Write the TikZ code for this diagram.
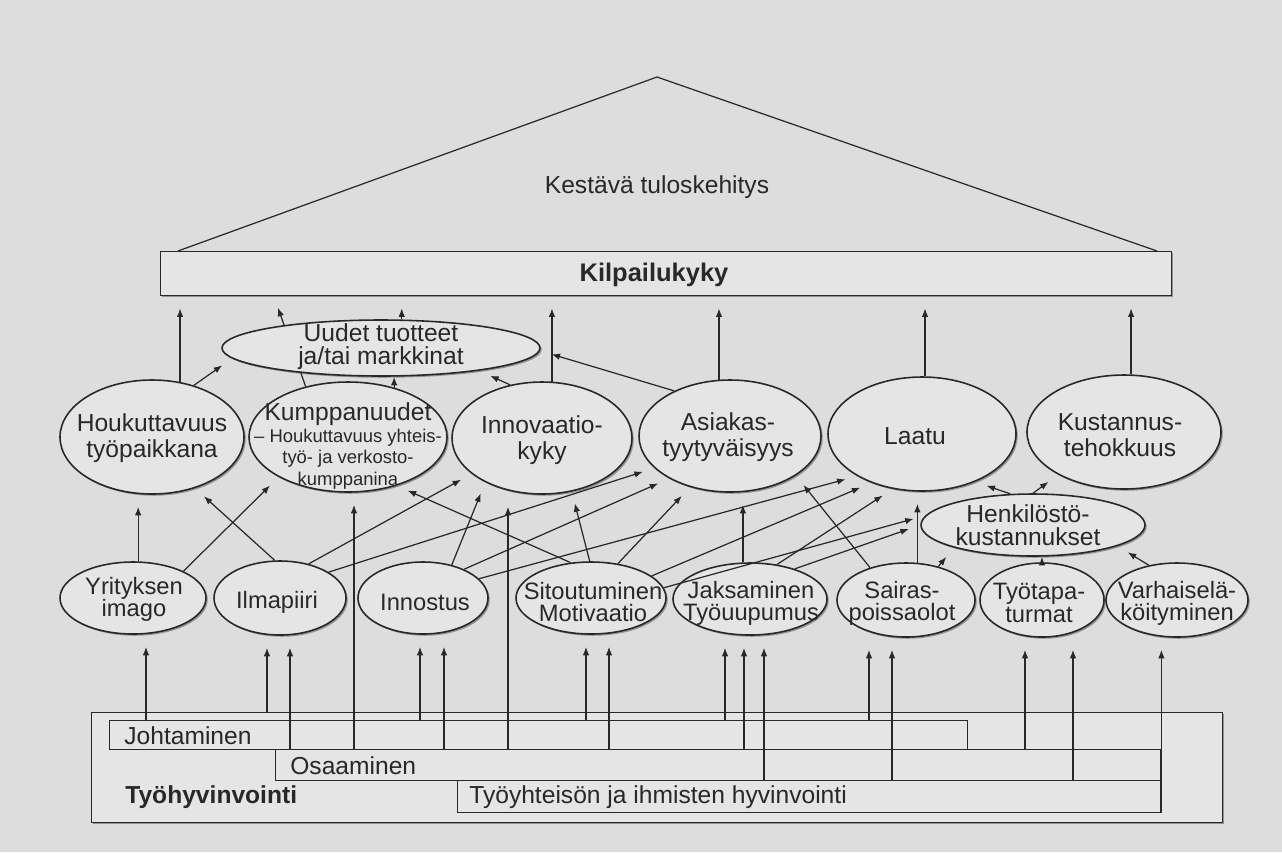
\documentclass[tikz,border=0pt]{standalone}
\usepackage{fontspec}
\setmainfont{Liberation Sans}
\usetikzlibrary{shapes.geometric,arrows.meta,shadows}

\definecolor{paper}{RGB}{221,221,221}
\definecolor{ink}{RGB}{40,40,40}
\definecolor{oval}{RGB}{229,229,229}

\tikzset{
  wire/.style={draw=ink, line width=.7pt},
  arr/.style={wire, -{Latex[length=1.7mm,width=1.3mm]}, shorten >=2.4mm},
  tip/.style={wire, -{Latex[length=1.7mm,width=1.3mm]}},
  shade/.style={drop shadow={shadow xshift=.35mm, shadow yshift=-.35mm, fill=black!70, opacity=.5}},
  ov/.style 2 args={ellipse, draw=ink, line width=.9pt, fill=oval, inner sep=0pt,
    minimum width=#1*.2mm, minimum height=#2*.2mm, shade},
  frame/.style 2 args={rectangle, draw=ink, line width=.8pt, inner sep=0pt,
    anchor=north west, minimum width=#1*.2mm, minimum height=#2*.2mm},
  txt/.style={align=center, text=ink, inner sep=0pt, font=\fontsize{14}{15}\selectfont},
  txt3/.style={txt, font=\fontsize{13.5}{12.6}\selectfont},
}

\begin{document}
\begin{tikzpicture}[x=.2mm, y=-.2mm]
\fill[paper] (0,0) rectangle (1282,852);

% roof
\node[frame={1011}{44}, fill=oval, shade] (bar) at (160,251) {};
\node[txt, font=\bfseries\fontsize{14.5}{16}\selectfont] (bar-t) at (654,275) {Kilpailukyky};
\coordinate (peak) at (657,77);
\draw[wire] (bar.north west -| 178,0) -- (peak) -- (bar.north east -| 1157,0);
\node[txt] (roof-t) at (657,187) {Kestävä tuloskehitys};

% upper ovals
\node[ov={184}{114}] (hou) at (152,437) {};
\node[ov={198}{110}] (kum) at (348,437) {};
\node[ov={180}{112}] (inn) at (542,438) {};
\node[ov={182}{112}] (asi) at (730,436) {};
\node[ov={188}{114}] (laa) at (922,434) {};
\node[ov={194}{114}] (kus) at (1124,432) {};
\draw[arr] (kum.130) -- (bar.south -| 274,0);
\node[ov={318}{56}] (uud) at (381,348) {};
\node[ov={224}{62}] (hen) at (1033,525) {};

% lower ovals
\node[ov={146}{72}] (ima) at (133,598) {};
\node[ov={132}{74}] (ilm) at (280,598) {};
\node[ov={130}{72}] (ins) at (423,598) {};
\node[ov={150}{72}] (sit) at (591,598) {};
\node[ov={154}{72}] (jak) at (750,599) {};
\node[ov={138}{74}] (sai) at (906,600) {};
\node[ov={124}{74}] (tyo) at (1042,600) {};
\node[ov={142}{74}] (var) at (1177,600) {};

% labels
\node[txt] (hou-t) at (152,438) {Houkuttavuus\\työpaikkana};
\node[txt, font=\fontsize{10.5}{12.5}\selectfont] (kum-t) at (348,446)
  {{\fontsize{14}{15}\selectfont Kumppanuudet}\\– Houkuttavuus yhteis-\\työ- ja verkosto-\\kumppanina};
\node[txt] (inn-t) at (542,440) {Innovaatio-\\kyky};
\node[txt] (asi-t) at (728,437) {Asiakas-\\tyytyväisyys};
\node[txt] (laa-t) at (915,436) {Laatu};
\node[txt] (kus-t) at (1120,435) {Kustannus-\\tehokkuus};
\node[txt, font=\fontsize{14}{13}\selectfont] (uud-t) at (381,347) {Uudet tuotteet\\ja/tai markkinat};
\node[txt, font=\fontsize{14}{13}\selectfont] (hen-t) at (1028,525) {Henkilöstö-\\kustannukset};
\node[txt3] (ima-t) at (134,599) {Yrityksen\\imago};
\node[txt3] (ilm-t) at (277,602) {Ilmapiiri};
\node[txt3] (ins-t) at (425,602) {Innostus};
\node[txt3] (sit-t) at (593,602) {Sitoutuminen\\Motivaatio};
\node[txt3] (jak-t) at (751,603) {Jaksaminen\\Työuupumus};
\node[txt3] (sai-t) at (902,603) {Sairas-\\poissaolot};
\node[txt3] (tyo-t) at (1039,603) {Työtapa-\\turmat};
\node[txt3] (var-t) at (1177,603) {Varhaiselä-\\köityminen};

% into Kilpailukyky
\draw[arr] (hou.63) -- (hou.63 |- bar.south);
\draw[arr] (uud.54) -- (uud.54 |- bar.south);
\draw[arr] (inn.80) -- (inn.80 |- bar.south);
\draw[arr] (asi.101) -- (asi.101 |- bar.south);
\draw[arr] (laa.87) -- (laa.87 |- bar.south);
\draw[arr] (kus.83) -- (kus.83 |- bar.south);

% into Uudet tuotteet
\draw[arr] (hou.51) -- (uud.184);
\draw[tip] (kum.47) -- (kum.47 |- uud.south);
\draw[arr] (inn.121) -- (uud.347);
\draw[arr] (asi.141) -- (uud.359);

% Henkilostokustannukset
\draw[arr] (hen.126) -- (laa.318);
\draw[arr] (hen.90) -- (kus.213);

% lower ovals upward
\draw[arr] (ima.82) -- (ima.82 |- hou.south);
\draw[arr] (ima.28) -- (kum.210);
\draw[arr] (ilm.98) -- (hou.310);
\draw[arr] (ilm.50) -- (inn.207);
\draw[arr] (ilm.28) -- (asi.203);
\draw[arr] (ins.49) -- (inn.218);
\draw[arr] (ins.35) -- (asi.215);
\draw[arr] (ins.19) -- (laa.213);
\draw[arr] (sit.120) -- (kum.315);
\draw[arr] (sit.92) -- (inn.299);
\draw[arr] (sit.52) -- (asi.232);
\draw[arr] (sit.20) -- (laa.224);
\draw[arr] (sit.8) -- (hen.175);
\draw[arr] (jak.101) -- (jak.101 |- asi.south);
\draw[arr] (jak.52) -- (laa.242);
\draw[arr] (jak.34) -- (hen.180);
\draw[arr] (sai.138) -- (asi.329);
\draw[arr] (sai.73) -- (sai.73 |- laa.south);
\draw[arr] (sai.46) -- (hen.196);
\draw[tip] (tyo.north) -- (tyo.north |- hen.south);
\draw[arr] (var.129) -- (hen.346);

% foundation
\node[frame={1131}{110}, fill=oval, shade] (wb) at (91,712) {};
\node[frame={858}{29}] (jo) at (109,720) {};
\node[frame={885}{31}] (os) at (275,749) {};
\node[frame={703}{32}] (ty) at (457,780) {};
\node[txt, anchor=west] (jo-t) at ([xshift=3mm]jo.west) {Johtaminen};
\node[txt, anchor=west] (os-t) at ([xshift=3mm]os.west) {Osaaminen};
\node[txt, anchor=west] (ty-t) at ([xshift=2.4mm]ty.west) {Työyhteisön ja ihmisten hyvinvointi};
\node[txt, anchor=west, font=\bfseries\fontsize{14}{15}\selectfont] (wb-t) at ([xshift=6.8mm]wb.west |- ty.west) {Työhyvinvointi};

% foundation upward
\draw[arr] (146,0 |- jo.north) -- (146,0 |- ima.south);
\draw[arr] (267,0 |- wb.north) -- (267,0 |- ilm.south);
\draw[arr] (290,0 |- os.north) -- (290,0 |- ilm.south);
\draw[arr] (354,0 |- os.north) -- (354,0 |- kum.south);
\draw[arr] (420,0 |- jo.north) -- (420,0 |- ins.south);
\draw[arr] (444,0 |- os.north) -- (444,0 |- ins.south);
\draw[arr] (508,0 |- os.north) -- (508,0 |- inn.south);
\draw[arr] (586,0 |- jo.north) -- (586,0 |- sit.south);
\draw[arr] (609,0 |- os.north) -- (609,0 |- sit.south);
\draw[arr] (725,0 |- jo.north) -- (725,0 |- jak.south);
\draw[arr] (744,0 |- os.north) -- (744,0 |- jak.south);
\draw[arr] (764,0 |- ty.north) -- (764,0 |- jak.south);
\draw[arr] (869,0 |- jo.north) -- (869,0 |- sai.south);
\draw[arr] (892,0 |- ty.north) -- (892,0 |- sai.south);
\draw[arr] (1025,0 |- os.north) -- (1025,0 |- tyo.south);
\draw[arr] (1073,0 |- ty.north) -- (1073,0 |- tyo.south);
\draw[arr] (ty.south east) -- (ty.south east |- var.south);
\end{tikzpicture}
\end{document}
